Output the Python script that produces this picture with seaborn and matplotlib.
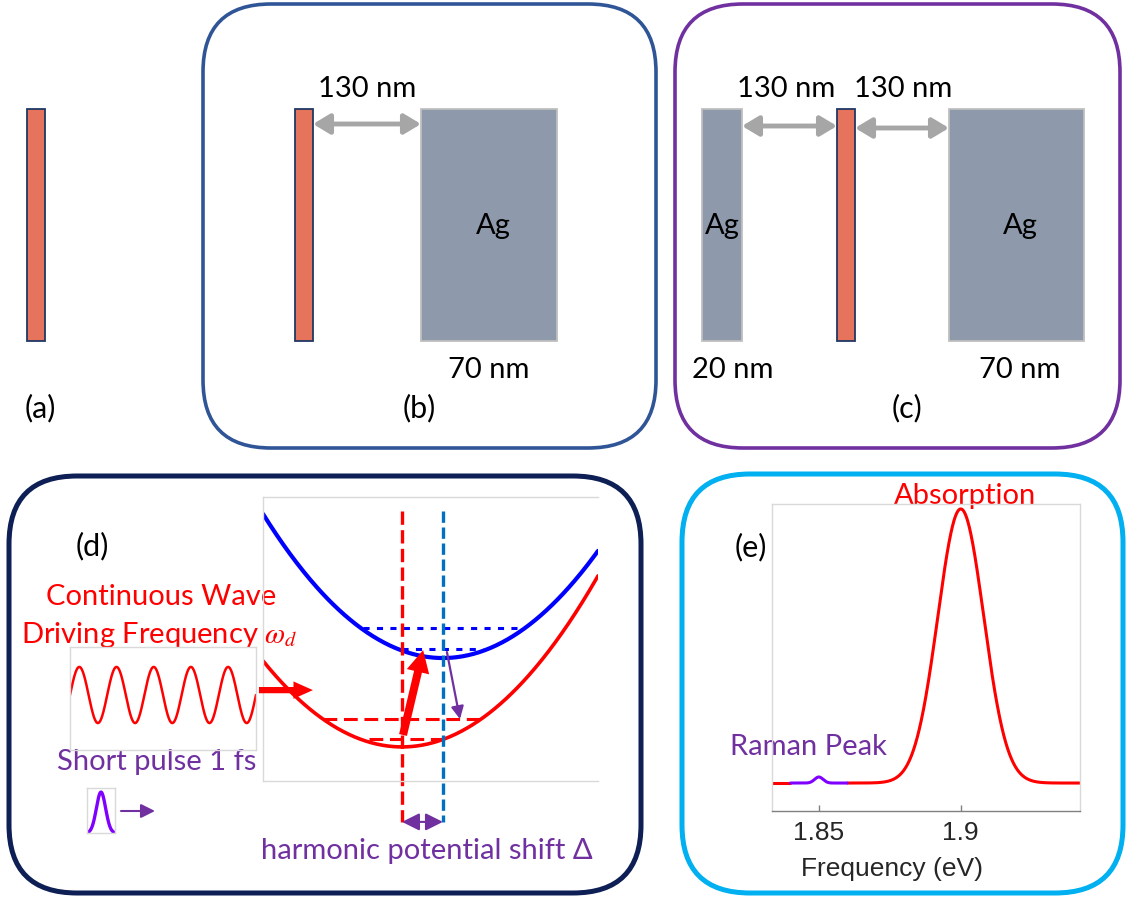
import numpy as np
import pandas as pd
import seaborn as sns
import matplotlib.pyplot as plt
from matplotlib.patches import FancyBboxPatch, Rectangle

# ---------------- values ----------------
panel_labels = ["(a)", "(b)", "(c)", "(d)", "(e)"]
gap_text = "130 nm"
ag_text = "Ag"
ag_thick_text = ["20 nm", "70 nm"]

# (d) harmonic potentials  (q = nuclear coordinate, E = energy, arbitrary units)
ground_center, ground_min = 0.0, 1.20
excited_center, excited_min = 1.22, 4.33
curvature = 0.176
ground_levels = [1.48, 2.18]                  # red dashed levels
ground_spans = [(-1.0, 1.2), (-2.36, 2.36)]
excited_levels = [4.65, 5.39]                 # blue dotted levels
excited_spans = [(0.0, 2.42), (-1.16, 3.67)]
q_range = (-4.15, 5.85)
e_range = (0.0, 10.0)

# continuous wave drive and short pulse
drive_periods = 5
pulse_sigma = 0.33

# (e) spectrum
freq_range = (1.8335, 1.942)
freq_ticks = [1.85, 1.9]
absorption_center, absorption_sigma = 1.90, 0.0081
raman_center, raman_sigma, raman_height = 1.85, 0.0015, 0.022
raman_window = (1.84, 1.86)

# ---------------- colours ----------------
salmon, salmon_edge = "#E6735C", "#203864"
silver, silver_edge = "#8E9AAB", "#BFBFBF"
arrow_grey = "#A6A6A6"
purple, violet = "#7030A0", "#8000FF"
red, blue, steel = "#FF0000", "#0000FF", "#0070C0"
frame_grey = "#D9D9D9"

W, H = 1127, 898


def px_rect(x0, y0, x1, y1):
    return [x0 / W, 1 - y1 / H, (x1 - x0) / W, (y1 - y0) / H]


sns.set_theme(style="white")
plt.rcParams["font.family"] = ["Lato", "DejaVu Sans"]
plt.rcParams["mathtext.fontset"] = "stix"

fig = plt.figure(figsize=(W / 100, H / 100), dpi=100)
bg = fig.add_axes([0, 0, 1, 1])
bg.set_xlim(0, W)
bg.set_ylim(H, 0)
bg.axis("off")

# rounded panel frames
for (x0, y0, x1, y1), col, lw in [((203, 4, 656, 448), "#2F5597", 2.6),
                                  ((675, 4, 1120, 448), purple, 2.6),
                                  ((9, 476, 641, 893), "#0D1F54", 3.6),
                                  ((682, 474, 1123, 893), "#00B0F0", 3.6)]:
    bg.add_patch(FancyBboxPatch((x0, y0), x1 - x0, y1 - y0,
                                boxstyle="round,pad=0,rounding_size=68",
                                fc="none", ec=col, lw=lw))

# layers of panels (a)-(c)
for x0, x1 in [(27, 45), (295, 313), (837, 855)]:
    bg.add_patch(Rectangle((x0, 109), x1 - x0, 232, fc=salmon, ec=salmon_edge, lw=1.3))
for x0, x1 in [(421, 557), (702, 742), (949, 1084)]:
    bg.add_patch(Rectangle((x0, 109), x1 - x0, 232, fc=silver, ec=silver_edge, lw=1.3))

for x0, x1, y in [(313, 421, 124), (742, 837, 126), (855, 949, 128)]:
    bg.annotate("", xy=(x1, y), xytext=(x0, y),
                arrowprops=dict(arrowstyle="<|-|>,head_length=0.5,head_width=0.3",
                                color=arrow_grey, lw=3.5, shrinkA=0, shrinkB=0,
                                mutation_scale=20))

txt = dict(ha="center", va="baseline", fontsize=21, color="black")
for x in [367, 786, 903]:
    bg.text(x, 97, gap_text, **txt)
for x in [493, 722, 1020]:
    bg.text(x, 234, ag_text, **txt)
bg.text(489, 378, ag_thick_text[1], **txt)
bg.text(733, 378, ag_thick_text[0], **txt)
bg.text(1020, 378, ag_thick_text[1], **txt)
for (x, y), lab in zip([(40, 417), (419, 417), (907, 417), (92, 555), (751, 556)], panel_labels):
    bg.text(x, y, lab, ha="center", va="baseline", fontsize=22, color="black")

bg.text(161, 605, "Continuous Wave", ha="center", va="baseline", fontsize=21, color=red)
bg.text(159, 643, r"Driving Frequency $\omega_d$", ha="center", va="baseline", fontsize=21, color=red)
bg.text(157, 770, "Short pulse 1 fs", ha="center", va="baseline", fontsize=21, color=purple)
bg.text(427, 859, "harmonic potential shift Δ", ha="center", va="baseline", fontsize=21, color=purple)
bg.text(808, 755, "Raman Peak", ha="center", va="baseline", fontsize=21, color=purple)
bg.text(965, 504, "Absorption", ha="center", va="baseline", fontsize=21, color=red)

bg.annotate("", xy=(155, 811), xytext=(121, 811),
            arrowprops=dict(arrowstyle="-|>,head_length=0.6,head_width=0.3",
                            color=purple, lw=1.5, shrinkA=0, shrinkB=0, mutation_scale=14))


def frame(ax, spines=("left", "right", "top", "bottom"), col=frame_grey):
    ax.set_facecolor("none")
    ax.set_xticks([])
    ax.set_yticks([])
    for name, sp in ax.spines.items():
        sp.set_visible(name in spines)
        sp.set_color(col)
        sp.set_linewidth(1.0)


# ---------------- (d) potentials ----------------
pot = fig.add_axes(px_rect(263, 497, 598, 781))
frame(pot, spines=("left", "top", "bottom"))
q = np.linspace(*q_range, 300)
curves = pd.DataFrame({"q": q,
                       "ground": ground_min + curvature * (q - ground_center) ** 2,
                       "excited": excited_min + curvature * (q - excited_center) ** 2})
sns.lineplot(data=curves, x="q", y="excited", ax=pot, color=blue, lw=3.0, sort=False)
sns.lineplot(data=curves, x="q", y="ground", ax=pot, color=red, lw=2.6, sort=False)
pot.set_xlim(*q_range)
pot.set_ylim(*e_range)
pot.set_xlabel("")
pot.set_ylabel("")

for lev, (a, b) in zip(ground_levels, ground_spans):
    pot.plot([a, b], [lev, lev], color=red, lw=2.2, dashes=(4.5, 2.2))
for lev, (a, b) in zip(excited_levels, excited_spans):
    pot.plot([a, b], [lev, lev], color=blue, lw=2.2, dashes=(2, 2.4))
pot.plot([ground_center, ground_center], [9.5, -1.44], color=red, lw=2.4,
         dashes=(4, 1.6), clip_on=False)
pot.plot([excited_center, excited_center], [9.5, -1.44], color=steel, lw=2.4,
         dashes=(3.4, 1.4), clip_on=False)

pot.annotate("", xy=(0.63, 4.61), xytext=(0.03, 1.62), annotation_clip=False,
             arrowprops=dict(arrowstyle="simple,head_length=1.6,head_width=1.65,tail_width=0.58",
                             color=red, lw=0, shrinkA=0, shrinkB=0, mutation_scale=10))
pot.annotate("", xy=(1.73, 2.18), xytext=(1.34, 4.54), annotation_clip=False,
             arrowprops=dict(arrowstyle="-|>,head_length=0.5,head_width=0.25",
                             color=purple, lw=1.6, shrinkA=0, shrinkB=0, mutation_scale=15))
pot.annotate("", xy=(-2.66, 3.2), xytext=(-4.27, 3.2), annotation_clip=False,
             arrowprops=dict(arrowstyle="simple,head_length=1.4,head_width=1.25,tail_width=0.45",
                             color=red, lw=0, shrinkA=0, shrinkB=0, mutation_scale=10))
pot.annotate("", xy=(excited_center, -1.44), xytext=(ground_center, -1.44), annotation_clip=False,
             arrowprops=dict(arrowstyle="<|-|>,head_length=0.7,head_width=0.35",
                             color=purple, lw=1.5, shrinkA=0, shrinkB=0, mutation_scale=15))

# continuous wave
wave = fig.add_axes(px_rect(70, 647, 256, 750))
frame(wave)
t = np.linspace(0, drive_periods, 600)
sns.lineplot(x=t, y=np.sin(2 * np.pi * t), ax=wave, color=red, lw=1.8, sort=False)
wave.set_xlim(0, drive_periods)
wave.set_ylim(-1.96, 1.71)

# short pulse
pulse = fig.add_axes(px_rect(87, 788, 115, 833))
frame(pulse)
tp = np.linspace(-1, 1, 200)
sns.lineplot(x=tp, y=np.exp(-tp ** 2 / (2 * pulse_sigma ** 2)), ax=pulse, color=violet, lw=2.4)
pulse.set_xlim(-1, 1)
pulse.set_ylim(0, 1.1)

# ---------------- (e) spectrum ----------------
spec = fig.add_axes(px_rect(772, 504, 1080, 811))
spec.set_facecolor("none")
f = np.linspace(*freq_range, 800)
absorb = np.exp(-(f - absorption_center) ** 2 / (2 * absorption_sigma ** 2))
raman = raman_height * np.exp(-(f - raman_center) ** 2 / (2 * raman_sigma ** 2))
spectrum = pd.DataFrame({"freq": f, "signal": absorb + raman})
inside = (spectrum.freq >= raman_window[0]) & (spectrum.freq <= raman_window[1])
left_part = spectrum[spectrum.freq <= raman_window[0]]
right_part = spectrum[spectrum.freq >= raman_window[1]]
sns.lineplot(data=left_part, x="freq", y="signal", ax=spec, color=red, lw=2.2)
sns.lineplot(data=right_part, x="freq", y="signal", ax=spec, color=red, lw=2.2)
sns.lineplot(data=spectrum[inside], x="freq", y="signal", ax=spec, color=violet, lw=2.2)
spec.set_xlim(*freq_range)
spec.set_ylim(-0.102, 1.018)
spec.set_xticks(freq_ticks)
spec.set_xticklabels([f"{v:g}" for v in freq_ticks], family="Liberation Sans", fontsize=19,
                     color="#262626")
spec.set_yticks([])
spec.set_ylabel("")
spec.set_xlabel("Frequency (eV)", family="Liberation Sans", fontsize=19, color="#262626")
spec.xaxis.set_label_coords(0.39, -0.15)
spec.tick_params(axis="x", direction="in", length=4, width=1, color="#808080", pad=7,
                 bottom=True)
for name, sp in spec.spines.items():
    sp.set_color("#808080" if name == "bottom" else frame_grey)
    sp.set_linewidth(1.0)

fig.savefig("out.png", dpi=100)
